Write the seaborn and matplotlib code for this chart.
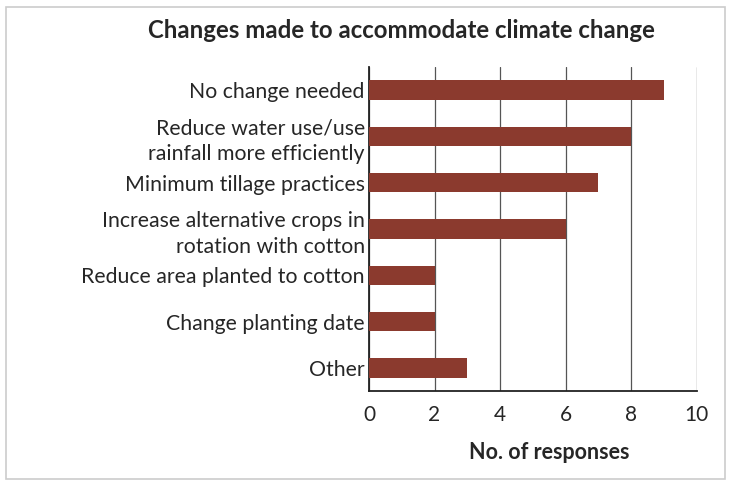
import pandas as pd
import numpy as np
import matplotlib.pyplot as plt
import seaborn as sns
from matplotlib.patches import Rectangle

categories = ['No change needed',
              'Reduce water use/use\nrainfall more efficiently',
              'Minimum tillage practices',
              'Increase alternative crops in\nrotation with cotton',
              'Reduce area planted to cotton',
              'Change planting date',
              'Other']
responses = [9, 8, 7, 6, 2, 2, 3]
x_ticks = [0, 2, 4, 6, 8, 10]

df = pd.DataFrame({'change': categories, 'n': responses})

sns.set_style('white')
plt.rcParams['font.family'] = ['Lato', 'DejaVu Sans']

fig = plt.figure(figsize=(7.35, 4.84), dpi=100)
ax = fig.add_axes([0.502, 0.192, 0.446, 0.67])

sns.barplot(data=df, y='change', x='n', orient='h', color='#8b3a2e',
            saturation=1, width=0.42, linewidth=0, ax=ax, zorder=3)

ax.set_xlim(0, 10)
ax.set_ylim(6.5, -0.5)
ax.set_xticks(x_ticks)
ax.set_xticklabels([str(t) for t in x_ticks], fontsize=15)
ax.set_yticks(range(len(categories)))
ax.set_yticklabels(categories, fontsize=15.3, linespacing=1.35)
ax.set_yticks(np.arange(-0.5, 7, 1), minor=True)
ax.tick_params(axis='y', which='major', length=0, pad=3)
ax.tick_params(axis='y', which='minor', length=3, direction='out', color='#222222')
ax.tick_params(axis='x', length=4, direction='in', pad=10, color='#222222')
ax.set_xlabel('')
ax.set_ylabel('')

ax.grid(axis='x', color='#555555', linewidth=0.9, zorder=0)
ax.set_axisbelow(True)
for s in ['top', 'right']:
    ax.spines[s].set_visible(False)
for s in ['left', 'bottom']:
    ax.spines[s].set_color('#222222')
    ax.spines[s].set_linewidth(1.3)

fig.text(0.546, 0.938, 'Changes made to accommodate climate change',
         ha='center', va='center', fontsize=17.3, fontweight='bold')
fig.text(0.747, 0.066, 'No. of responses', ha='center', va='center',
         fontsize=15.5, fontweight='bold')

fig.patches.append(Rectangle((0.008, 0.01), 0.978, 0.975, transform=fig.transFigure,
                             fill=False, edgecolor='#cccccc', linewidth=1.2))

fig.savefig('out.png', dpi=100)
